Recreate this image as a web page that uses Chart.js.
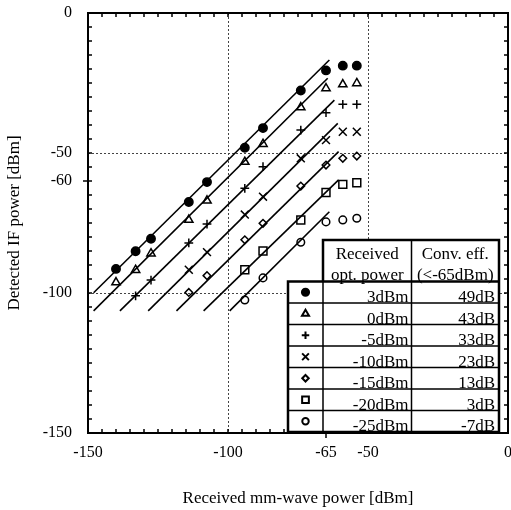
<!DOCTYPE html>
<html lang="en">
<head>
<meta charset="UTF-8">
<title>Detected IF power vs received mm-wave power</title>
<script src="https://cdn.jsdelivr.net/npm/chart.js@4.4.1/dist/chart.umd.min.js"></script>
<style>
  html, body { margin: 0; padding: 0; background: #fff; }
  canvas { display: block; }
</style>
</head>
<body>
<canvas id="myChart" width="511" height="510"></canvas>
<script>
// received mm-wave power [dBm]; the last two are the saturated points
const xPower = [-140, -133, -127.5, -114, -107.5, -94, -87.5, -74, -65, -59, -54];

// detected IF power [dBm] per received optical power (null = no point)
const y3dBm   = [-91.4, -85.1, -80.6, -67.5, -60.4, -48.1, -41.1, -27.7, -20.5, -18.8, -18.8];
const y0dBm   = [-96.2, -91.8, -85.9, -73.9, -67.0, -53.2, -46.8, -33.7, -26.9, -25.5, -25.1];
const yM5dBm  = [null, -101.0, -95.4, -82.1, -75.4, -62.6, -54.9, -41.8, -35.6, -32.6, -32.6];
const yM10dBm = [null, null, null, -91.7, -85.4, -72.0, -65.6, -51.9, -45.4, -42.4, -42.4];
const yM15dBm = [null, null, null, -99.8, -93.8, -81.0, -75.1, -61.8, -54.3, -51.9, -51.1];
const yM20dBm = [null, null, null, null, null, -91.7, -85.0, -73.9, -64.1, -61.2, -60.6];
const yM25dBm = [null, null, null, null, null, -102.5, -94.6, -81.9, -74.6, -73.9, -73.3];

// fitted straight lines (start and end of each line)
const fitX0 = [-148, -148, -138.6, -128.5, -118.4, -108.7, -99.4];
const fitY0 = [-99.9, -106.4, -106.4, -106.4, -106.4, -106.4, -106.4];
const fitX1 = [-63.8, -64.4, -62, -60.8, -60.5, -60.5, -63.8];
const fitY1 = [-16.8, -23.3, -31.1, -39.4, -49.5, -59.6, -71];

// legend table
const optPower = ['3dBm', '0dBm', '-5dBm', '-10dBm', '-15dBm', '-20dBm', '-25dBm'];
const convEff = ['49dB', '43dB', '33dB', '23dB', '13dB', '3dB', '-7dB'];

const xTickLabels = [-150, -100, -65, -50, 0];
const yTickLabels = [0, -50, -60, -100, -150];
const gridValues = [-100, -50];

const series = [y3dBm, y0dBm, yM5dBm, yM10dBm, yM15dBm, yM20dBm, yM25dBm];
const markers = [
  { style: 'circle', r: 4.2, fill: true },
  { style: 'triangle', r: 4.8, fill: false },
  { style: 'cross', r: 4.4, fill: false },
  { style: 'crossRot', r: 5.6, fill: false },
  { style: 'rectRot', r: 3.8, fill: false },
  { style: 'rect', r: 5.6, fill: false },
  { style: 'circle', r: 3.8, fill: false }
];

const serif = 'Liberation Serif, Times New Roman, serif';

const lineSets = fitX0.map((x0, i) => ({
  data: [{ x: x0, y: fitY0[i] }, { x: fitX1[i], y: fitY1[i] }],
  showLine: true,
  borderColor: '#000',
  borderWidth: 1.6,
  pointRadius: 0
}));

const pointSets = series.map((ys, i) => ({
  data: xPower.map((x, j) => ({ x: x, y: ys[j] })).filter(p => p.y !== null),
  showLine: false,
  pointStyle: markers[i].style,
  pointRadius: markers[i].r,
  pointBorderWidth: 1.5,
  pointBorderColor: '#000',
  pointBackgroundColor: markers[i].fill ? '#000' : 'rgba(0,0,0,0)'
}));

const isOn = (v, list) => list.some(t => Math.abs(t - v) < 0.01);

// frame and inward tick marks every 5 dB
const framePlugin = {
  id: 'frame',
  afterDatasetsDraw(chart) {
    const { ctx, chartArea: a, scales } = chart;
    ctx.save();
    ctx.strokeStyle = '#000';
    ctx.lineWidth = 1.5;
    ctx.beginPath();
    for (let v = -150; v <= 0; v += 5) {
      const px = scales.x.getPixelForValue(v);
      const py = scales.y.getPixelForValue(v);
      ctx.moveTo(px, a.bottom); ctx.lineTo(px, a.bottom - 4);
      ctx.moveTo(px, a.top); ctx.lineTo(px, a.top + 4);
      ctx.moveTo(a.left, py); ctx.lineTo(a.left + 4, py);
      ctx.moveTo(a.right, py); ctx.lineTo(a.right - 4, py);
    }
    const p65 = scales.x.getPixelForValue(-65);
    ctx.moveTo(p65, a.bottom); ctx.lineTo(p65, a.bottom + 5);
    const p60 = scales.y.getPixelForValue(-60);
    ctx.moveTo(a.left, p60); ctx.lineTo(a.left - 5, p60);
    ctx.stroke();
    ctx.lineWidth = 2;
    ctx.strokeRect(a.left, a.top, a.right - a.left, a.bottom - a.top);
    ctx.restore();
  }
};

// table with the symbols, optical power and conversion efficiency
const tablePlugin = {
  id: 'table',
  afterDraw(chart) {
    const ctx = chart.ctx;
    const L = 288, S = 323, M = 411.5, R = 499;
    const headTop = 240, bodyTop = 281.5, bottom = 432;
    const rowH = (bottom - bodyTop) / optPower.length;
    ctx.save();
    ctx.fillStyle = '#fff';
    ctx.fillRect(S, headTop, R - S, bodyTop - headTop);
    ctx.fillRect(L, bodyTop, R - L, bottom - bodyTop);

    ctx.fillStyle = '#000';
    ctx.font = '17px ' + serif;
    ctx.textBaseline = 'alphabetic';
    ctx.textAlign = 'center';
    ctx.fillText('Received', (S + M) / 2, 259);
    ctx.fillText('opt. power', (S + M) / 2, 280);
    ctx.fillText('Conv. eff.', (M + R) / 2, 259);
    ctx.fillText('(<-65dBm)', (M + R) / 2, 280);

    ctx.textAlign = 'right';
    optPower.forEach((t, i) => {
      const yb = bodyTop + rowH * (i + 1) - 1;
      ctx.fillText(t, M - 3, yb);
      ctx.fillText(convEff[i], R - 4, yb);
      const m = markers[i];
      ctx.fillStyle = m.fill ? '#000' : 'rgba(0,0,0,0)';
      ctx.strokeStyle = '#000';
      ctx.lineWidth = 2;
      Chart.helpers.drawPoint(ctx, { pointStyle: m.style, radius: m.r * 0.85, borderWidth: 2, rotation: 0 },
        (L + S) / 2, bodyTop + rowH * (i + 0.5));
      ctx.fillStyle = '#000';
    });

    ctx.strokeStyle = '#000';
    ctx.lineWidth = 1.5;
    ctx.beginPath();
    for (let i = 1; i < optPower.length; i++) {
      const y = bodyTop + rowH * i;
      ctx.moveTo(L, y); ctx.lineTo(R, y);
    }
    ctx.moveTo(S, bodyTop); ctx.lineTo(S, bottom);
    ctx.moveTo(M, headTop); ctx.lineTo(M, bottom);
    ctx.stroke();
    ctx.lineWidth = 2.5;
    ctx.beginPath();
    ctx.moveTo(S, bodyTop); ctx.lineTo(S, headTop); ctx.lineTo(R, headTop);
    ctx.lineTo(R, bottom); ctx.lineTo(L, bottom); ctx.lineTo(L, bodyTop); ctx.closePath();
    ctx.moveTo(L, bodyTop); ctx.lineTo(R, bodyTop);
    ctx.stroke();
    ctx.restore();
  }
};

const tickFont = { family: serif, size: 16 };
const titleFont = { family: serif, size: 17 };
const gridColor = c => (c.tick && isOn(c.tick.value, gridValues)) ? '#444' : 'rgba(0,0,0,0)';

new Chart(document.getElementById('myChart').getContext('2d'), {
  type: 'scatter',
  data: { datasets: lineSets.concat(pointSets) },
  options: {
    responsive: false,
    animation: false,
    devicePixelRatio: 1,
    layout: { autoPadding: false, padding: { top: 13, right: 3, bottom: 0, left: 0 } },
    plugins: { legend: { display: false }, tooltip: { enabled: false } },
    scales: {
      x: {
        type: 'linear', min: -150, max: 0,
        border: { display: false, dash: [2, 2] },
        grid: { color: gridColor, lineWidth: 1, drawTicks: false },
        ticks: {
          stepSize: 5, autoSkip: false, maxRotation: 0, padding: 10,
          color: '#000', font: tickFont,
          callback: v => isOn(v, xTickLabels) ? String(Math.round(v)) : ''
        },
        title: { display: true, text: 'Received mm-wave power [dBm]', color: '#000', font: titleFont, padding: { top: 0, bottom: 1 } },
        afterFit: s => { s.height = 77; s.paddingLeft = 0; s.paddingRight = 0; }
      },
      y: {
        type: 'linear', min: -150, max: 0,
        border: { display: false, dash: [2, 2] },
        grid: { color: gridColor, lineWidth: 1, drawTicks: false },
        ticks: {
          stepSize: 5, autoSkip: false, padding: 16,
          color: '#000', font: tickFont,
          callback: v => isOn(v, yTickLabels) ? String(Math.round(v)) : ''
        },
        title: { display: true, text: 'Detected IF power [dBm]', color: '#000', font: titleFont, padding: { top: 4, bottom: 0 } },
        afterFit: s => { s.width = 88; s.paddingTop = 0; s.paddingBottom = 0; }
      }
    }
  },
  plugins: [framePlugin, tablePlugin]
});
</script>
</body>
</html>
